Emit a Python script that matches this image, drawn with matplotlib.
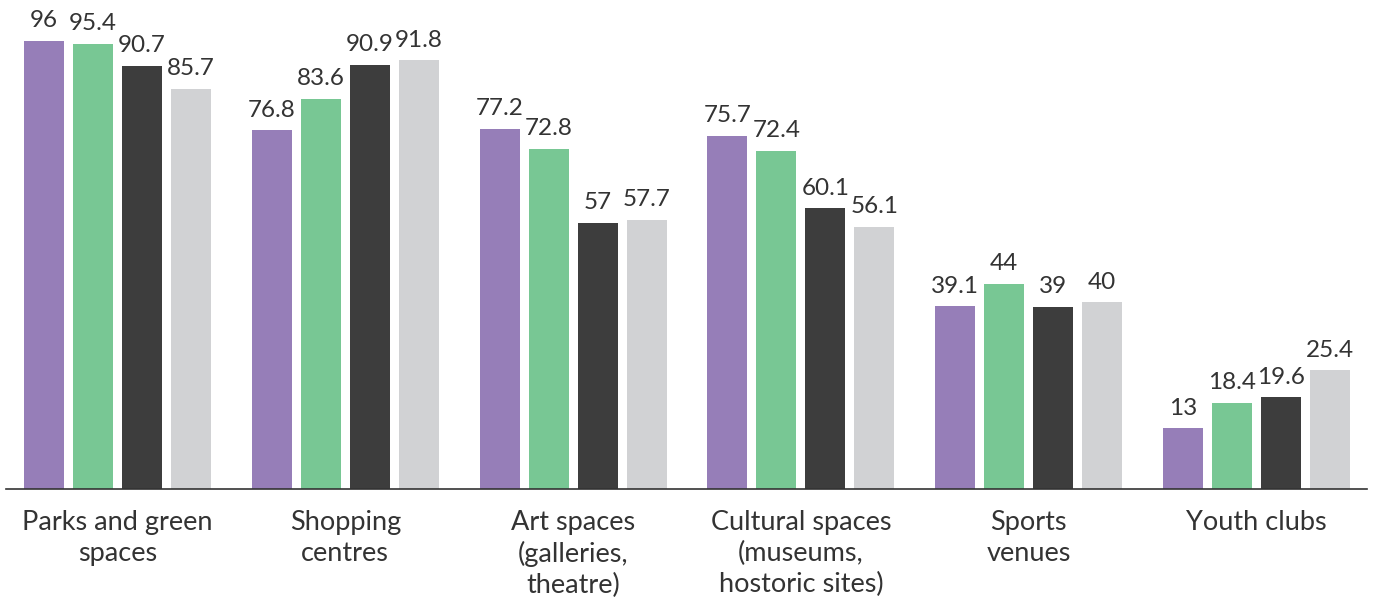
import matplotlib
matplotlib.use("Agg")
import matplotlib.pyplot as plt
import numpy as np

categories = ["Parks and green\nspaces", "Shopping\ncentres", "Art spaces\n(galleries,\ntheatre)",
              "Cultural spaces\n(museums,\nhostoric sites)", "Sports\nvenues", "Youth clubs"]
series_a = [96, 76.8, 77.2, 75.7, 39.1, 13]
series_b = [95.4, 83.6, 72.8, 72.4, 44, 18.4]
series_c = [90.7, 90.9, 57, 60.1, 39, 19.6]
series_d = [85.7, 91.8, 57.7, 56.1, 40, 25.4]
colors = ["#967EB8", "#78C794", "#3D3D3D", "#D1D2D4"]

plt.rcParams['font.family'] = ['Lato', 'DejaVu Sans']
W, H = 1381, 598
fig = plt.figure(figsize=(W / 100, H / 100), dpi=100)
ax = fig.add_axes([6 / W, (H - 489) / H, 1361 / W, 479 / H])

x = np.arange(len(categories))
width = 0.1756
step = 0.2151
txt = "#333333"
for i, (vals, c) in enumerate(zip([series_a, series_b, series_c, series_d], colors)):
    pos = x + (i - 1.5) * step
    ax.bar(pos, vals, width=width, color=c)
    for xp, v in zip(pos, vals):
        ax.annotate(f"{v:g}", (xp, v), xytext=(0, 7), textcoords="offset points",
                    ha="center", va="bottom", fontsize=17.5, color=txt)

ax.set_xlim(-0.4895, 5.485)
ax.set_ylim(0, 102.6)
ax.set_xticks(x)
ax.set_xticklabels(categories, fontsize=19.5, color=txt, linespacing=1.3)
ax.tick_params(axis='x', length=0, pad=15)
ax.set_yticks([])
for s in ["top", "right", "left"]:
    ax.spines[s].set_visible(False)
ax.spines["bottom"].set_color("#333333")
ax.spines["bottom"].set_linewidth(1.2)
ax.patch.set_alpha(0)
fig.savefig("out.png", dpi=100)
